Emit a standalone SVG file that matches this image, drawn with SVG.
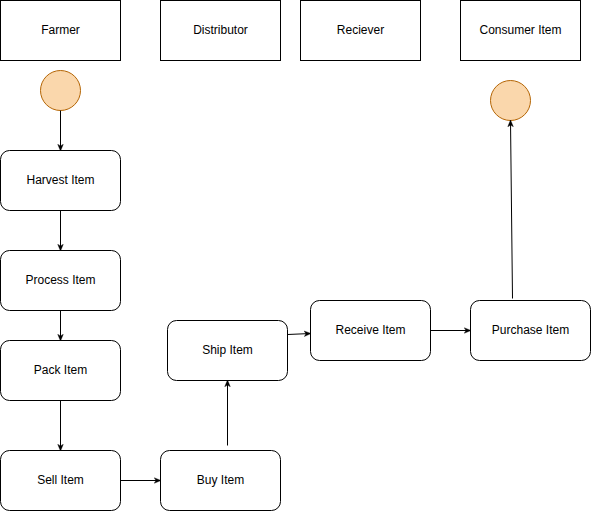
<svg xmlns="http://www.w3.org/2000/svg" width="591" height="511" viewBox="0 0 591 511">
<style>
.hdr{fill:#ffffff;stroke:#000000;stroke-width:1}
.box{fill:#ffffff;stroke:#000000;stroke-width:1}
.term{fill:#fad7ac;stroke:#b46504;stroke-width:1}
.lbl{font-family:"Liberation Sans",Arial,sans-serif;font-size:12px;fill:#000000;text-anchor:middle;dominant-baseline:central}
.edge{fill:none;stroke:#000000;stroke-width:1;marker-end:url(#arr)}
</style>
<defs>
<marker id="arr" viewBox="0 0 10 10" refX="9" refY="5" markerWidth="7" markerHeight="7" orient="auto" markerUnits="userSpaceOnUse">
<path d="M0,1 L10,5 L0,9 L2.5,5 Z" fill="#000000" stroke="#000000" stroke-width="0.5"/>
</marker>
</defs>
<rect width="591" height="511" fill="#ffffff"/>
<g id="farmer"><rect class="hdr" x="0.5" y="0.5" width="120" height="60"/><text class="lbl" x="60.5" y="29.5">Farmer</text></g>
<g id="distributor"><rect class="hdr" x="160.5" y="0.5" width="120" height="60"/><text class="lbl" x="220.5" y="29.5">Distributor</text></g>
<g id="reciever"><rect class="hdr" x="300.5" y="0.5" width="120" height="60"/><text class="lbl" x="360.5" y="29.5">Reciever</text></g>
<g id="consumer"><rect class="hdr" x="460.5" y="0.5" width="120" height="60"/><text class="lbl" x="520.5" y="29.5">Consumer Item</text></g>
<g id="start"><circle class="term" cx="60.5" cy="90.5" r="20"/></g>
<g id="end"><circle class="term" cx="510.5" cy="100.5" r="20"/></g>
<g id="harvest"><rect class="box" x="0.5" y="150.5" width="120" height="60" rx="9" ry="9"/><text class="lbl" x="60.5" y="179.5">Harvest Item</text></g>
<g id="process"><rect class="box" x="0.5" y="250.5" width="120" height="60" rx="9" ry="9"/><text class="lbl" x="60.5" y="279.5">Process Item</text></g>
<g id="pack"><rect class="box" x="0.5" y="340.5" width="120" height="60" rx="9" ry="9"/><text class="lbl" x="60.5" y="369.5">Pack Item</text></g>
<g id="sell"><rect class="box" x="0.5" y="450.5" width="120" height="60" rx="9" ry="9"/><text class="lbl" x="60.5" y="479.5">Sell Item</text></g>
<g id="buy"><rect class="box" x="160.5" y="450.5" width="120" height="60" rx="9" ry="9"/><text class="lbl" x="220.5" y="479.5">Buy Item</text></g>
<g id="ship"><rect class="box" x="167.5" y="320.5" width="120" height="60" rx="9" ry="9"/><text class="lbl" x="227.5" y="349.5">Ship Item</text></g>
<g id="receive"><rect class="box" x="310.5" y="300.5" width="120" height="60" rx="9" ry="9"/><text class="lbl" x="370.5" y="329.5">Receive Item</text></g>
<g id="purchase"><rect class="box" x="470.5" y="300.5" width="120" height="60" rx="9" ry="9"/><text class="lbl" x="530.5" y="329.5">Purchase Item</text></g>
<g id="connectors">
<line class="edge" x1="60.5" y1="110.5" x2="60.5" y2="150.5"/>
<line class="edge" x1="60.5" y1="210.5" x2="60.5" y2="250.5"/>
<line class="edge" x1="60.5" y1="310.5" x2="60.5" y2="340.5"/>
<line class="edge" x1="60.5" y1="400.5" x2="60.5" y2="450.5"/>
<line class="edge" x1="120.5" y1="480.5" x2="160.5" y2="480.5"/>
<line class="edge" x1="227.5" y1="445.5" x2="227.5" y2="380.5"/>
<line class="edge" x1="287.5" y1="334.5" x2="310.5" y2="333.5"/>
<line class="edge" x1="430.5" y1="330.5" x2="470.5" y2="330.5"/>
<line class="edge" x1="512.5" y1="298.5" x2="510.5" y2="120.5"/>
</g>
</svg>
